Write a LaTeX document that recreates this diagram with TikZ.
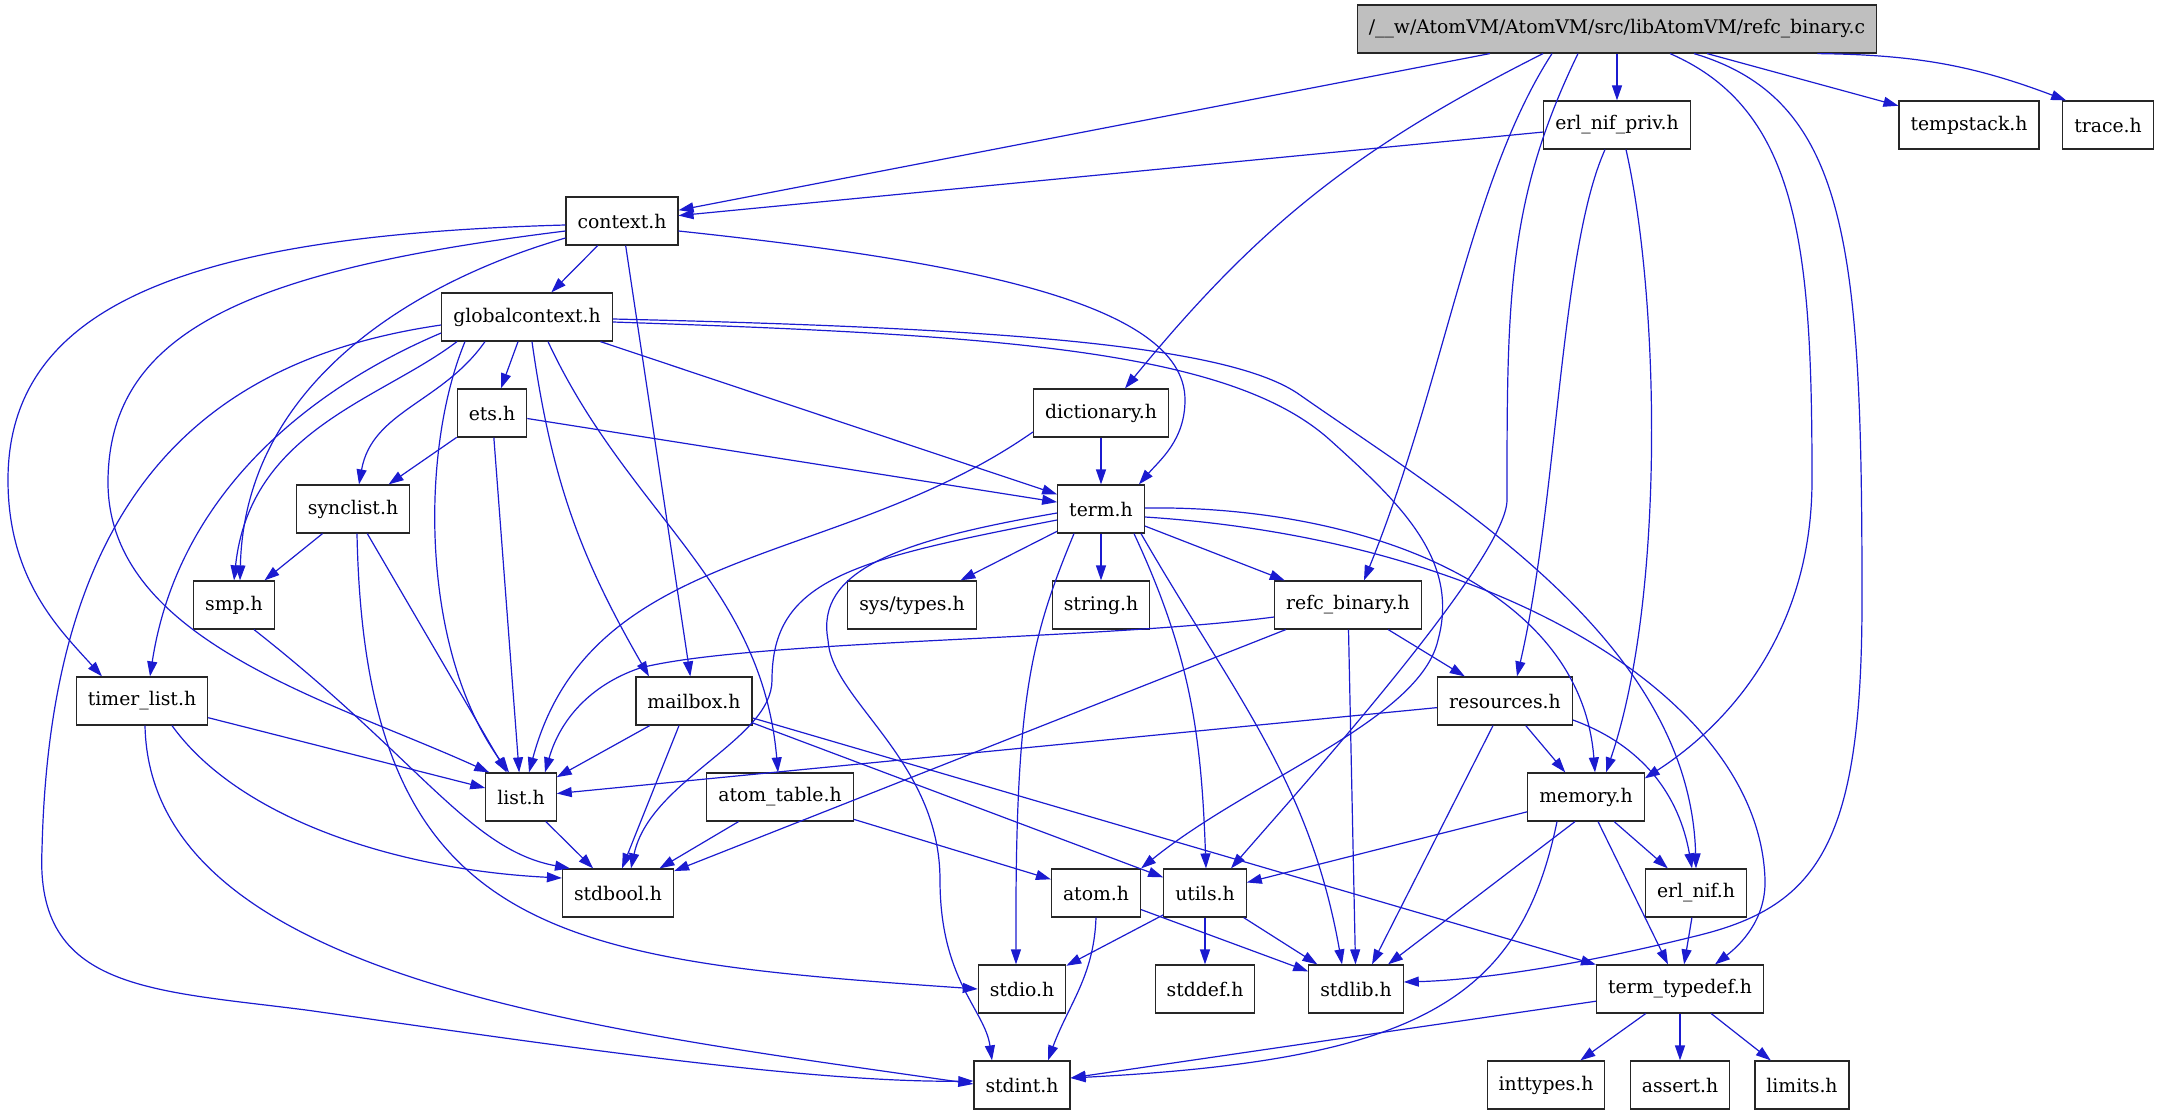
\documentclass[tikz,border=0pt]{standalone}
\usepackage{fontspec}
\setmainfont{DejaVu Serif}
\usetikzlibrary{arrows.meta}
\definecolor{edgeblue}{RGB}{27,27,208}
\definecolor{srcgray}{RGB}{191,191,191}
\begin{document}
\begin{tikzpicture}[x=1pt,y=1pt,
	hdr/.style={draw=black!85, line width=1.2pt, fill=white, minimum height=48pt, inner xsep=11.5pt, inner ysep=0pt, font=\fontsize{18.8}{22}\selectfont},
	srcfile/.style={hdr, fill=srcgray},
	incl/.style={draw=edgeblue, line width=1.2pt, -{Triangle[length=15pt,width=10pt]}}]
	\useasboundingbox (0,0) rectangle (2158,-1115);

	\node [srcfile] (refcc) at (1617,-29) {/\_\_w/AtomVM/AtomVM/src/libAtomVM/refc\_binary.c};
	\node [hdr] (enifpriv) at (1617,-125) {erl\_nif\_priv.h};
	\node [hdr] (tempstack) at (1969,-125) {tempstack.h};
	\node [hdr] (trace) at (2108,-125) {trace.h};
	\node [hdr] (context) at (622,-221) {context.h};
	\node [hdr] (globalcontext) at (527,-317) {globalcontext.h};
	\node [hdr] (dictionary) at (1101,-413) {dictionary.h};
	\node [hdr] (ets) at (492,-413) {ets.h};
	\node [hdr] (term) at (1101,-509) {term.h};
	\node [hdr] (synclist) at (353,-509) {synclist.h};
	\node [hdr] (smp) at (234,-605) {smp.h};
	\node [hdr] (systypes) at (912,-605) {sys/types.h};
	\node [hdr] (stringh) at (1101,-605) {string.h};
	\node [hdr] (refch) at (1348,-605) {refc\_binary.h};
	\node [hdr] (timerlist) at (142,-701) {timer\_list.h};
	\node [hdr] (mailbox) at (694,-701) {mailbox.h};
	\node [hdr] (resources) at (1505,-701) {resources.h};
	\node [hdr] (list) at (521,-797) {list.h};
	\node [hdr] (atomtable) at (780,-797) {atom\_table.h};
	\node [hdr] (memory) at (1586,-797) {memory.h};
	\node [hdr] (stdbool) at (618,-893) {stdbool.h};
	\node [hdr] (atom) at (1096,-893) {atom.h};
	\node [hdr] (utils) at (1205,-893) {utils.h};
	\node [hdr] (erlnif) at (1696,-893) {erl\_nif.h};
	\node [hdr] (stdio) at (1022,-989) {stdio.h};
	\node [hdr] (stddef) at (1205,-989) {stddef.h};
	\node [hdr] (stdlib) at (1356,-989) {stdlib.h};
	\node [hdr] (termtypedef) at (1680,-989) {term\_typedef.h};
	\node [hdr] (stdint) at (1022,-1085) {stdint.h};
	\node [hdr] (inttypes) at (1546,-1085) {inttypes.h};
	\node [hdr] (assert) at (1680,-1085) {assert.h};
	\node [hdr] (limits) at (1802,-1085) {limits.h};

	\draw [incl] (refcc) -- (context);
	\draw [incl] ([xshift=-74pt]refcc.south) to [bend right=12] ([xshift=24pt]dictionary.north);
	\draw [incl] (refcc) -- (enifpriv);
	\draw [incl] (refcc) -- (tempstack);
	\draw [incl] ([xshift=-60pt]refcc.south east) to [bend left=10] ([xshift=4pt]trace.north west);
	\draw [incl] ([xshift=-65pt]refcc.south) .. controls (1470,-180) and (1445,-380) .. ([xshift=16pt]refch.north);
	\draw [incl] ([xshift=-39pt]refcc.south) .. controls (1507,-200) and (1507,-300) .. (1507,-500) .. controls (1507,-560) and (1290,-800) .. ([xshift=26pt]utils.north);
	\draw [incl] ([xshift=53pt]refcc.south) .. controls (1800,-110) and (1812,-250) .. (1812,-480) .. controls (1812,-640) and (1720,-730) .. ([yshift=-6pt]memory.north east);
	\draw [incl] ([xshift=77pt]refcc.south) .. controls (1850,-100) and (1862,-250) .. (1862,-600) .. controls (1862,-840) and (1820,-905) .. (1700,-935) .. controls (1580,-965) and (1480,-980) .. ([yshift=7pt]stdlib.east);

	\draw [incl] (enifpriv) -- (context);
	\draw [incl] ([xshift=-12pt]enifpriv.south) .. controls (1560,-250) and (1558,-500) .. ([xshift=12pt]resources.north);
	\draw [incl] ([xshift=9pt]enifpriv.south) .. controls (1660,-300) and (1665,-600) .. ([xshift=20pt]memory.north);

	\draw [incl] (context) -- (globalcontext);
	\draw [incl] ([yshift=-10pt]context.east) .. controls (950,-260) and (1185,-300) .. (1185,-400) .. controls (1185,-440) and (1160,-460) .. ([xshift=-6pt]term.north east);
	\draw [incl] (context) -- (mailbox);
	\draw [incl] ([yshift=-17pt]context.west) .. controls (420,-280) and (245,-380) .. ([xshift=6pt]smp.north);
	\draw [incl] ([yshift=-10pt]context.west) .. controls (250,-270) and (110,-330) .. (108,-480) .. controls (106,-640) and (330,-700) .. ([xshift=4pt]list.north west);
	\draw [incl] ([yshift=-4pt]context.west) .. controls (200,-235) and (8,-300) .. (8,-480) .. controls (8,-580) and (60,-630) .. ([xshift=-40pt]timerlist.north);

	\draw [incl] (globalcontext) -- (ets);
	\draw [incl] (globalcontext) -- (term);
	\draw [incl] ([xshift=-42pt]globalcontext.south) to [out=-125,in=80] ([xshift=6pt]synclist.north);
	\draw [incl] ([xshift=-70pt]globalcontext.south) .. controls (380,-400) and (250,-430) .. (smp.north);
	\draw [incl] ([xshift=-62pt]globalcontext.south) .. controls (420,-450) and (420,-650) .. ([xshift=-12pt]list.north);
	\draw [incl] ([yshift=-16pt]globalcontext.west) .. controls (330,-380) and (180,-480) .. ([xshift=8pt]timerlist.north);
	\draw [incl] ([yshift=-8pt]globalcontext.west) .. controls (200,-360) and (50,-500) .. (42,-850) .. controls (35,-990) and (150,-990) .. (306,-1010) .. controls (520,-1040) and (800,-1083) .. ([yshift=4pt]stdint.west);
	\draw [incl] ([xshift=5pt]globalcontext.south) to [out=-82,in=120] ([xshift=-45pt]mailbox.north);
	\draw [incl] ([xshift=21pt]globalcontext.south) to [out=-65,in=95] ([xshift=-2pt]atomtable.north);
	\draw [incl] ([yshift=-5pt]globalcontext.east) .. controls (1000,-335) and (1230,-350) .. (1330,-440) .. controls (1400,-503) and (1460,-560) .. (1438,-640) .. controls (1420,-720) and (1250,-780) .. (atom.north east);
	\draw [incl] ([yshift=-2pt]globalcontext.east) .. controls (1000,-328) and (1230,-345) .. (1300,-395) .. controls (1450,-500) and (1690,-640) .. (erlnif.north);

	\draw [incl] (ets) -- (synclist);
	\draw [incl] (ets) -- (list);
	\draw [incl] (ets) -- (term);

	\draw [incl] (dictionary) -- (term);
	\draw [incl] ([yshift=-19pt]dictionary.west) to [out=-145,in=75] ([xshift=8pt]list.north);

	\draw [incl] (term) -- (systypes);
	\draw [incl] (term) -- (stringh);
	\draw [incl] (term) -- (refch);
	\draw [incl] ([yshift=-11pt]term.west) .. controls (850,-560) and (772,-580) .. (772,-680) .. controls (772,-740) and (650,-780) .. ([xshift=13pt]stdbool.north);
	\draw [incl] ([yshift=-4pt]term.west) .. controls (900,-540) and (815,-570) .. (828,-640) .. controls (831,-700) and (940,-760) .. (940,-880) .. controls (940,-980) and (985,-1010) .. ([xshift=-30pt]stdint.north);
	\draw [incl] ([xshift=-27pt]term.south) .. controls (1030,-640) and (1015,-700) .. ([xshift=-6pt]stdio.north);
	\draw [incl] ([xshift=33pt]term.south) to [out=-65,in=92] ([xshift=1pt]utils.north);
	\draw [incl] ([xshift=40pt]term.south) to [out=-60,in=100] ([xshift=-14pt]stdlib.north);
	\draw [incl] ([yshift=1pt]term.east) .. controls (1350,-505) and (1580,-580) .. ([xshift=9pt]memory.north);
	\draw [incl] ([yshift=-8pt]term.east) .. controls (1500,-540) and (1760,-700) .. (1765,-880) .. controls (1766,-920) and (1740,-945) .. ([xshift=35pt]termtypedef.north);

	\draw [incl] ([yshift=-12pt]refch.west) .. controls (1100,-640) and (750,-640) .. (640,-668) .. controls (590,-685) and (560,-720) .. ([xshift=24pt]list.north);
	\draw [incl] (refch) -- (stdbool);
	\draw [incl] (refch) -- (stdlib);
	\draw [incl] (refch) -- (resources);

	\draw [incl] (resources) -- (list);
	\draw [incl] (resources) -- (memory);
	\draw [incl] ([xshift=-12pt]resources.south) -- ([xshift=16pt]stdlib.north);
	\draw [incl] ([yshift=-19pt]resources.east) to [out=-20,in=100] ([xshift=-4pt]erlnif.north);

	\draw [incl] (memory) -- (utils);
	\draw [incl] ([xshift=-11pt]memory.south) -- ([xshift=32pt]stdlib.north);
	\draw [incl] ([xshift=-29pt]memory.south) .. controls (1520,-1000) and (1420,-1060) .. ([yshift=7pt]stdint.east);
	\draw [incl] (memory) -- (termtypedef);
	\draw [incl] (memory) -- (erlnif);

	\draw [incl] (erlnif) -- (termtypedef);

	\draw [incl] (termtypedef) -- (stdint);
	\draw [incl] (termtypedef) -- (inttypes);
	\draw [incl] (termtypedef) -- (assert);
	\draw [incl] (termtypedef) -- (limits);

	\draw [incl] (atom) -- (stdlib);
	\draw [incl] (atom.south) to [out=-92,in=70] ([xshift=26pt]stdint.north);

	\draw [incl] (utils) -- (stdio);
	\draw [incl] (utils) -- (stddef);
	\draw [incl] (utils) -- (stdlib);

	\draw [incl] (mailbox) -- (list);
	\draw [incl] ([xshift=-15pt]mailbox.south) -- ([xshift=4pt]stdbool.north);
	\draw [incl] (mailbox) -- (utils);
	\draw [incl] (mailbox) -- (termtypedef);

	\draw [incl] (atomtable) -- (stdbool);
	\draw [incl] (atomtable) -- (atom);

	\draw [incl] (list) -- (stdbool);

	\draw [incl] (timerlist) -- (list);
	\draw [incl] ([xshift=30pt]timerlist.south) .. controls (240,-820) and (400,-870) .. ([yshift=15pt]stdbool.west);
	\draw [incl] ([xshift=3pt]timerlist.south) .. controls (150,-980) and (600,-1030) .. ([yshift=1pt]stdint.west);

	\draw [incl] ([xshift=20pt]smp.south) .. controls (420,-760) and (470,-850) .. ([xshift=-48pt]stdbool.north);

	\draw [incl] (synclist) -- (smp);
	\draw [incl] (synclist) -- (list);
	\draw [incl] ([xshift=4pt]synclist.south) .. controls (365,-940) and (560,-960) .. (stdio.west);
\end{tikzpicture}
\end{document}
